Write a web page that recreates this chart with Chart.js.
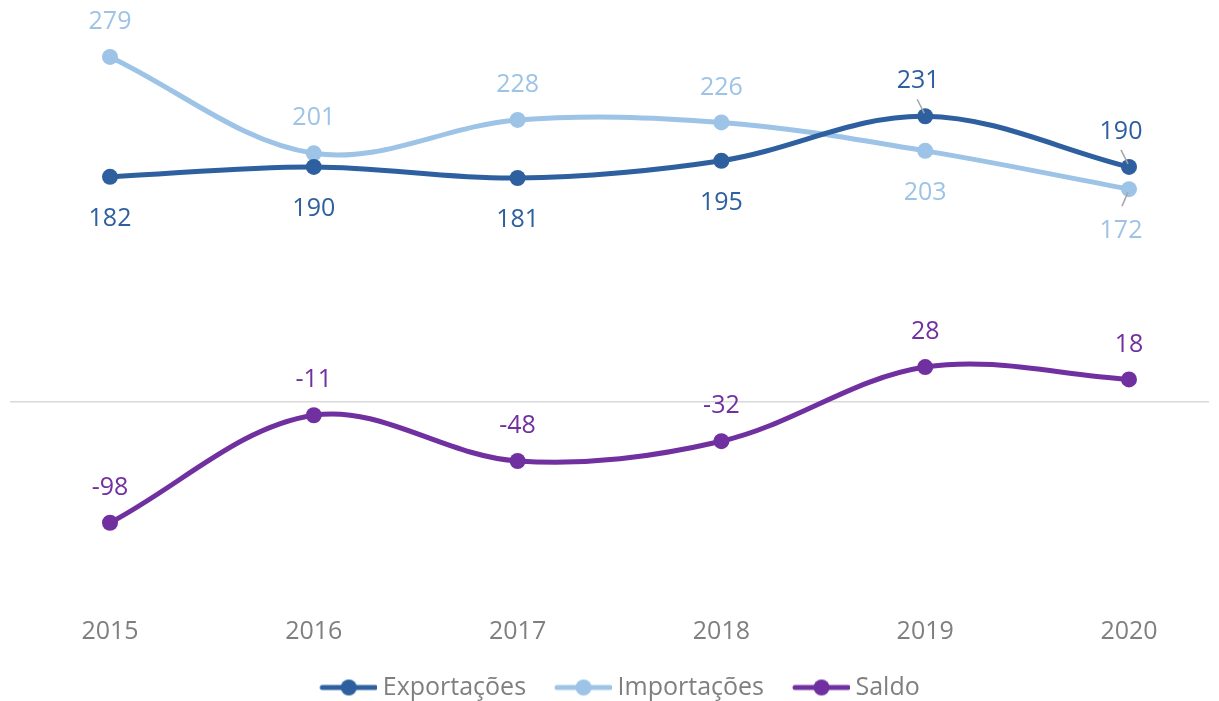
<!DOCTYPE html>
<html>
<head>
<meta charset="utf-8">
<script src="https://cdn.jsdelivr.net/npm/chart.js@4"></script>
<style>
  html, body { margin: 0; padding: 0; background: #fff; }
  #wrap { width: 1219px; height: 701px; }
</style>
</head>
<body>
<div id="wrap"><canvas id="tradeChart"></canvas></div>
<script>
const years = ["2015", "2016", "2017", "2018", "2019", "2020"];
const exportacoes = [182, 190, 181, 195, 231, 190];
const importacoes = [279, 201, 228, 226, 203, 172];
const saldo = [-98, -11, -48, -32, 28, 18];

const FONT = "'Open Sans', 'Noto Sans', sans-serif";
const colExp = "#2E5F9E";
const colImp = "#9DC3E6";
const colSaldo = "#7030A0";

// label placement: 1 = above, -1 = below; shift = nudge left with leader line
const labelSide = {
    0: [-1, -1, -1, -1, 1, 1],
    1: [1, 1, 1, 1, -1, -1],
    2: [1, 1, 1, 1, 1, 1]
};
const labelShift = {
    0: [0, 0, 0, 0, -7, -8],
    1: [0, 0, 0, 0, 0, -8],
    2: [0, 0, 0, 0, 0, 0]
};

// legend symbol: line with a dot, left part of the image left blank for spacing
function legendIcon(color) {
    let c = document.createElement("canvas");
    c.width = 65;
    c.height = 18;
    let g = c.getContext("2d");
    g.strokeStyle = color;
    g.lineWidth = 5;
    g.lineCap = "round";
    g.beginPath();
    g.moveTo(10, 9);
    g.lineTo(63, 9);
    g.stroke();
    g.fillStyle = color;
    g.beginPath();
    g.arc(36.5, 9, 8, 0, Math.PI * 2);
    g.fill();
    return c;
}

const zeroLine = {
    id: "zeroLine",
    beforeDatasetsDraw(chart) {
        let y = chart.scales.y.getPixelForValue(0);
        let ctx = chart.ctx;
        ctx.save();
        ctx.strokeStyle = "#d9d9d9";
        ctx.lineWidth = 1.5;
        ctx.beginPath();
        ctx.moveTo(10, y);
        ctx.lineTo(1209, y);
        ctx.stroke();
        ctx.restore();
    }
};

const valueLabels = {
    id: "valueLabels",
    afterDatasetsDraw(chart) {
        let ctx = chart.ctx;
        ctx.save();
        ctx.font = "25px " + FONT;
        ctx.textAlign = "center";
        ctx.textBaseline = "middle";
        chart.data.datasets.forEach((ds, i) => {
            let meta = chart.getDatasetMeta(i);
            meta.data.forEach((pt, j) => {
                let side = labelSide[i][j];
                let dx = labelShift[i][j];
                let ly = side > 0 ? pt.y - 35 : pt.y + 42;
                let lx = pt.x + dx;
                if (dx !== 0) {
                    ctx.strokeStyle = "#a6a6a6";
                    ctx.lineWidth = 1.5;
                    ctx.beginPath();
                    if (side > 0) {
                        ctx.moveTo(pt.x - 8, pt.y - 17);
                        ctx.lineTo(pt.x - 1, pt.y - 3);
                    } else {
                        ctx.moveTo(pt.x - 1, pt.y + 3);
                        ctx.lineTo(pt.x - 7, pt.y + 17);
                    }
                    ctx.stroke();
                }
                ctx.fillStyle = ds.borderColor;
                ctx.fillText(String(ds.data[j]), lx, ly);
            });
        });
        ctx.restore();
    }
};

function series(label, data, color) {
    return {
        label: label,
        data: data,
        borderColor: color,
        backgroundColor: color,
        borderWidth: 5,
        pointRadius: 8,
        pointHoverRadius: 8,
        pointBorderWidth: 0,
        tension: 0.35,
        fill: false
    };
}

new Chart(document.getElementById("tradeChart"), {
    type: "line",
    data: {
        labels: years,
        datasets: [
            series("Exportações", exportacoes, colExp),
            series("Importações", importacoes, colImp),
            series("Saldo", saldo, colSaldo)
        ]
    },
    options: {
        responsive: true,
        maintainAspectRatio: false,
        animation: false,
        layout: { padding: { left: 110, right: 90, top: 31, bottom: 0 } },
        scales: {
            x: {
                offset: false,
                grid: { display: false, drawTicks: false },
                border: { display: false },
                ticks: { color: "#7f7f7f", font: { family: FONT, size: 25 }, padding: 30, maxRotation: 0 },
                afterFit(scale) {
                    scale.height = 60;
                }
            },
            y: {
                display: false,
                min: -150,
                max: 300
            }
        },
        plugins: {
            legend: {
                position: "bottom",
                maxHeight: 54,
                labels: {
                    color: "#7f7f7f",
                    font: { family: FONT, size: 25 },
                    usePointStyle: true,
                    pointStyleWidth: 51,
                    padding: 28,
                    generateLabels(chart) {
                        return chart.data.datasets.map((ds, i) => ({
                            text: ds.label,
                            fillStyle: ds.borderColor,
                            strokeStyle: ds.borderColor,
                            fontColor: "#7f7f7f",
                            lineWidth: 0,
                            pointStyle: legendIcon(ds.borderColor),
                            hidden: false,
                            datasetIndex: i
                        }));
                    }
                }
            },
            tooltip: { enabled: false }
        }
    },
    plugins: [zeroLine, valueLabels]
});
</script>
</body>
</html>
